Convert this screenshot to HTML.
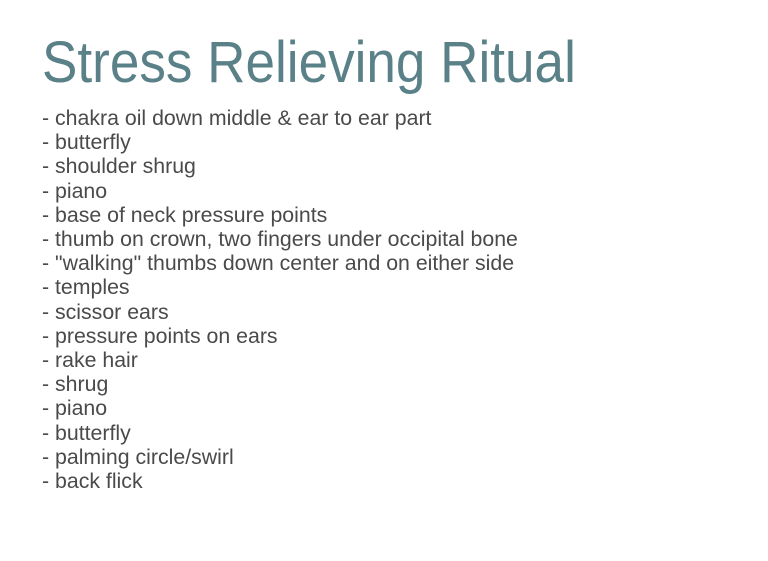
<!DOCTYPE html>
<html><head><style>
body{margin:0;width:768px;height:561px;background:#fff;overflow:hidden;font-family:"Liberation Sans",Arial,sans-serif;}
h1{position:absolute;left:42px;top:28px;margin:0;font-weight:normal;font-size:58px;line-height:70px;color:#5b8188;white-space:nowrap;transform-origin:0 0;transform:scaleX(0.915);}
.list{position:absolute;left:42px;top:106px;font-size:21.3px;line-height:24.2px;color:#4a4a4a;white-space:nowrap;}
</style></head><body>
<h1>Stress Relieving Ritual</h1>
<div class="list">
- chakra oil down middle &amp; ear to ear part<br>
- butterfly<br>
- shoulder shrug<br>
- piano<br>
- base of neck pressure points<br>
- thumb on crown, two fingers under occipital bone<br>
- "walking" thumbs down center and on either side<br>
- temples<br>
- scissor ears<br>
- pressure points on ears<br>
- rake hair<br>
- shrug<br>
- piano<br>
- butterfly<br>
- palming circle/swirl<br>
- back flick
</div>
</body></html>
